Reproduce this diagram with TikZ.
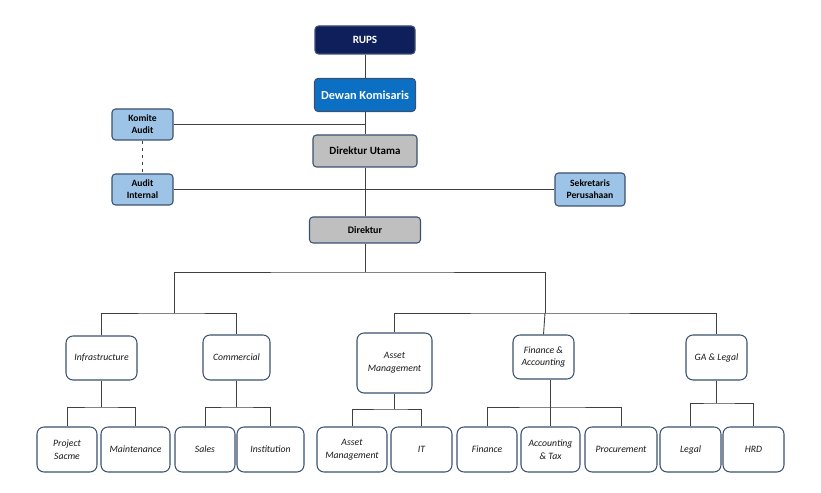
\documentclass[tikz,border=0pt]{standalone}
\usepackage{fontspec}
\setmainfont{Carlito}
\usepackage{xcolor}
\usetikzlibrary{positioning}
\definecolor{rnavy}{HTML}{0E1F5B}
\definecolor{rblue}{HTML}{0B6FC4}
\definecolor{rlight}{HTML}{9DC3E6}
\definecolor{rgrey}{HTML}{BFBFBF}
\definecolor{redge}{HTML}{3B5070}
\definecolor{rline}{HTML}{404040}

\begin{document}
\begin{tikzpicture}[x=1cm, y=1cm,
  topbox/.style={draw=redge, line width=0.9pt, rounded corners=3pt, inner sep=1pt,
    align=center, font=\bfseries\fontsize{10.5}{12}\selectfont},
  sidebox/.style={topbox, fill=rlight, minimum width=1.83cm, minimum height=0.93cm,
    font=\bfseries\fontsize{8.2}{10.5}\selectfont},
  unitbox/.style={draw=redge, fill=white, line width=0.9pt, rounded corners=6pt,
    inner sep=1pt, align=center, text=black!90, font=\itshape\fontsize{8.3}{11}\selectfont},
  subbox/.style={unitbox, minimum height=1.35cm},
  link/.style={draw=rline, line width=0.75pt}]
\useasboundingbox (0,0) rectangle (24.63,14.79);

\node[topbox, fill=rnavy, text=white, minimum width=3.0cm, minimum height=0.84cm,
  font=\bfseries\fontsize{9.5}{11}\selectfont] (rups) at (10.95,13.59) {RUPS};
\node[topbox, fill=rblue, text=white, minimum width=3.03cm, minimum height=0.99cm]
  (dewan) at (10.95,11.94) {Dewan Komisaris};
\node[topbox, fill=rgrey, minimum width=3.12cm, minimum height=0.96cm,
  font=\bfseries\fontsize{9.4}{11}\selectfont] (dirut) at (10.95,10.26) {Direktur Utama};
\node[topbox, fill=rgrey, minimum width=3.33cm, minimum height=0.78cm,
  font=\bfseries\fontsize{8.5}{10}\selectfont] (dir) at (10.95,7.89) {Direktur};
\node[sidebox] (komite) at (4.275,11.055) {Komite\\Audit};
\node[sidebox] (auditint) at (4.275,9.105) {Audit\\Internal};
\node[sidebox, minimum width=2.1cm, minimum height=0.99cm] (sekre) at (17.7,9.105) {Sekretaris\\Perusahaan};

\node[unitbox, minimum width=2.13cm, minimum height=1.32cm] (infra) at (3.045,4.05) {Infrastructure};
\node[unitbox, minimum width=2.01cm, minimum height=1.35cm] (comm) at (7.095,4.065) {Commercial};
\node[unitbox, minimum width=2.25cm, minimum height=1.8cm] (asset) at (11.835,3.9) {Asset\\Management};
\node[unitbox, minimum width=1.83cm, minimum height=1.32cm] (finacc) at (16.305,4.08) {Finance \&\\Accounting};
\node[unitbox, minimum width=1.83cm, minimum height=1.35cm] (gal) at (21.495,4.065) {GA \& Legal};

\node[subbox, minimum width=1.8cm] (psacme) at (2.01,1.305) {Project\\Sacme};
\node[subbox, minimum width=2.07cm] (maint) at (4.065,1.305) {Maintenance};
\node[subbox, minimum width=1.8cm] (sales) at (6.15,1.305) {Sales};
\node[subbox, minimum width=2.01cm] (inst) at (8.115,1.305) {Institution};
\node[subbox, minimum width=2.1cm] (assetm) at (10.56,1.305) {Asset\\Management};
\node[subbox, minimum width=1.83cm] (it) at (12.645,1.305) {IT};
\node[subbox, minimum width=1.8cm] (fin) at (14.61,1.305) {Finance};
\node[subbox, minimum width=1.77cm] (acctax) at (16.515,1.305) {Accounting\\\& Tax};
\node[subbox, minimum width=2.16cm] (proc) at (18.63,1.305) {Procurement};
\node[subbox, minimum width=1.83cm] (legal) at (20.715,1.305) {Legal};
\node[subbox, minimum width=1.83cm] (hrd) at (22.605,1.305) {HRD};

\coordinate (topj) at (10.95,6.63);
\coordinate (leftj) at (5.22,5.4);
\coordinate (rightj) at (16.35,5.4);
\coordinate (infraj) at (3.045,2.58);
\coordinate (commj) at (7.095,2.58);
\coordinate (assetj) at (11.835,2.52);
\coordinate (finaccj) at (16.515,2.58);
\coordinate (galj) at (21.495,2.7);

\draw[link] (rups) -- (dewan);
\draw[link] (dewan) -- (dirut);
\draw[link] (dirut) -- (dir);
\draw[link] (komite.east) -- (komite.east -| dewan.south);
\draw[link] (auditint.east) -- (sekre.west);
\draw[link, dashed] (komite) -- (auditint);

\draw[link] (dir) -- (topj);
\draw[link] (leftj) |- (topj) -| (rightj);
\draw[link] (infra.north) |- (leftj) -| (comm.north);
\draw[link] (asset.north) |- (rightj) -| (gal.north);
\draw[link] (rightj) -- (finacc.north);

\draw[link] (infra) -- (infraj);
\draw[link] (psacme.north) |- (infraj) -| (maint.north);
\draw[link] (comm) -- (commj);
\draw[link] (sales.north) |- (commj) -| (inst.north);
\draw[link] (asset) -- (assetj);
\draw[link] (assetm.north) |- (assetj) -| (it.north);
\draw[link] (finacc.south -| finaccj) -- (acctax.north);
\draw[link] (fin.north) |- (finaccj) -| (proc.north);
\draw[link] (gal) -- (galj);
\draw[link] (legal.north) |- (galj) -| (hrd.north);
\end{tikzpicture}
\end{document}
